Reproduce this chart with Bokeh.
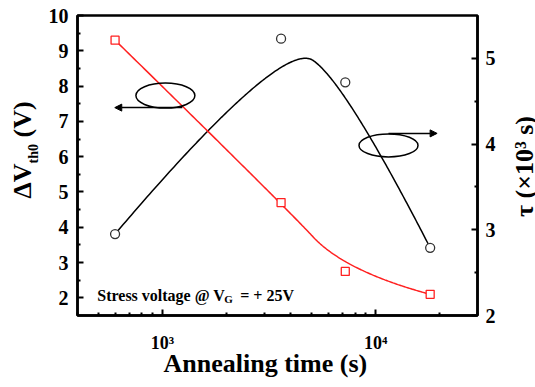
import numpy as np
from bokeh.plotting import figure
from bokeh.models import Range1d, LinearAxis, FixedTicker, Label, Arrow, NormalHead, Title
from bokeh.embed import file_html
from bokeh.resources import INLINE

# ---------------- data ----------------
anneal_time = [600, 3600, 7200, 18000]          # s
delta_vth0 = [9.3, 4.7, 2.75, 2.1]               # V (left axis)
tau = [2.95, 5.23, 4.72, 2.79]                   # x10^3 s (right axis)

x_major = [1000, 10000]
x_tick_labels = {1000: "10³", 10000: "10⁴"}
left_ticks = [2, 3, 4, 5, 6, 7, 8, 9, 10]
right_ticks = [2, 3, 4, 5]

# annotation (ellipse + arrow) placement, in left-axis data units
ell_left = (1033, 7.73)
arrow_left = (1240, 598, 7.39)      # x_start, x_end, y
ell_right = (11480, 6.32)
arrow_right = (11480, 19400, 6.66)
note_pos = (495, 2.07)

FONT = "Liberation Serif"


def bspline2(xs, ys, n=120):
    """Quadratic clamped B-spline using the points as control points (log-x space)."""
    P = np.column_stack([np.log10(xs), ys])
    k = len(P)
    segs = []
    for i in range(1, k - 1):
        a = P[0] if i == 1 else (P[i - 1] + P[i]) / 2
        c = P[-1] if i == k - 2 else (P[i] + P[i + 1]) / 2
        b = P[i]
        t = np.linspace(0, 1, n)[:, None]
        segs.append((1 - t) ** 2 * a + 2 * t * (1 - t) * b + t ** 2 * c)
    C = np.vstack(segs)
    return 10 ** C[:, 0], C[:, 1]


p = figure(x_axis_type="log", x_range=Range1d(400, 30000), y_range=Range1d(1.5, 10),
           width=535, height=387, output_backend="svg", toolbar_location=None,
           min_border_left=77, min_border_right=58, min_border_top=15, min_border_bottom=72)
p.extra_y_ranges = {"tau": Range1d(2, 5.5)}
rax = LinearAxis(y_range_name="tau")
p.add_layout(rax, "right")

p.xgrid.visible = False
p.ygrid.visible = False
p.outline_line_color = "black"
p.outline_line_width = 2.5
p.background_fill_color = "white"
p.border_fill_color = "white"

p.xaxis.ticker = FixedTicker(ticks=x_major,
                             minor_ticks=[m * 10 ** e for e in (2, 3, 4) for m in range(2, 10)
                                          if 400 <= m * 10 ** e <= 30000])
p.xaxis.major_label_overrides = x_tick_labels
p.yaxis[0].ticker = FixedTicker(ticks=left_ticks, minor_ticks=[v + 0.5 for v in left_ticks[:-1]])
rax.ticker = FixedTicker(ticks=right_ticks, minor_ticks=[v + 0.5 for v in right_ticks[:-1]])

for ax in [p.xaxis[0], p.yaxis[0], rax]:
    ax.axis_line_width = 2.5
    ax.axis_line_color = "black"
    ax.major_tick_in = 6
    ax.major_tick_out = 0
    ax.minor_tick_in = 3
    ax.minor_tick_out = 0
    ax.major_tick_line_width = 2
    ax.minor_tick_line_width = 2
    ax.major_label_text_font = FONT
    ax.major_label_text_font_style = "bold"
    ax.major_label_text_color = "black"
p.xaxis.major_label_text_font_size = "18px"
p.xaxis.major_label_standoff = 17
p.yaxis[0].major_label_text_font_size = "20px"
p.yaxis[0].major_label_standoff = 9
rax.major_label_text_font_size = "20px"
rax.major_label_standoff = 8

# ---------------- curves & markers ----------------
bx, by = bspline2(anneal_time, tau)
p.line(bx, by, line_color="black", line_width=1.5, y_range_name="tau")
rx, ry = bspline2(anneal_time, delta_vth0)
p.line(rx, ry, line_color="#ff2020", line_width=1.5)

p.scatter(anneal_time, tau, marker="circle", size=9, fill_color="white",
          line_color="#333333", line_width=1.3, y_range_name="tau")
p.scatter(anneal_time, delta_vth0, marker="square", size=8, fill_color="white",
          line_color="#ff2020", line_width=1.3)

# ---------------- ellipses & arrows ----------------
p.ellipse(x=[ell_left[0], ell_right[0]], y=[ell_left[1], ell_right[1]],
          width=59, height=[25, 23], width_units="screen", height_units="screen",
          fill_color=None, line_color="black", line_width=1.5)
for (xs, xe, yy) in (arrow_left, arrow_right):
    p.add_layout(Arrow(x_start=xs, x_end=xe, y_start=yy, y_end=yy, line_width=1.5,
                       end=NormalHead(size=7, fill_color="black", line_color="black")))


def note(text, size, xo=0, yo=0):
    p.add_layout(Label(text=text, x=note_pos[0], y=note_pos[1], x_offset=xo, y_offset=yo,
                       text_font=FONT, text_font_style="bold", text_font_size=f"{size}px",
                       text_align="left", text_baseline="alphabetic", text_color="black"))


note("Stress voltage @ V", 16)
note("G", 11, xo=127, yo=-4)
note("= + 25V", 16, xo=143)


def title(text, side, size, offset, valign, standoff):
    p.add_layout(Title(text=text, align="left", offset=offset, vertical_align=valign,
                       standoff=standoff, text_font=FONT, text_font_style="bold",
                       text_font_size=f"{size}px", text_color="black"), side)


# x title
title("Annealing time (s)", "below", 26, 86, "bottom", -18)
# left title: subscript slot first (closer to the axis), then main text
title("th0", "left", 14, 152, "top", 6)
title("ΔV\u2002\u2002(V)", "left", 26, 117, "bottom", -28)

# right title: a label laid out in the right side panel (reads bottom to top)
p.add_layout(Label(text="τ (×10³ s)", x=26, y=149, x_units="screen", y_units="screen",
                   angle=np.pi / 2, text_align="center", text_baseline="middle",
                   text_font=FONT, text_font_style="bold", text_font_size="26px",
                   text_color="black"), "right")

open("out.html", "w").write(file_html(p, INLINE))
